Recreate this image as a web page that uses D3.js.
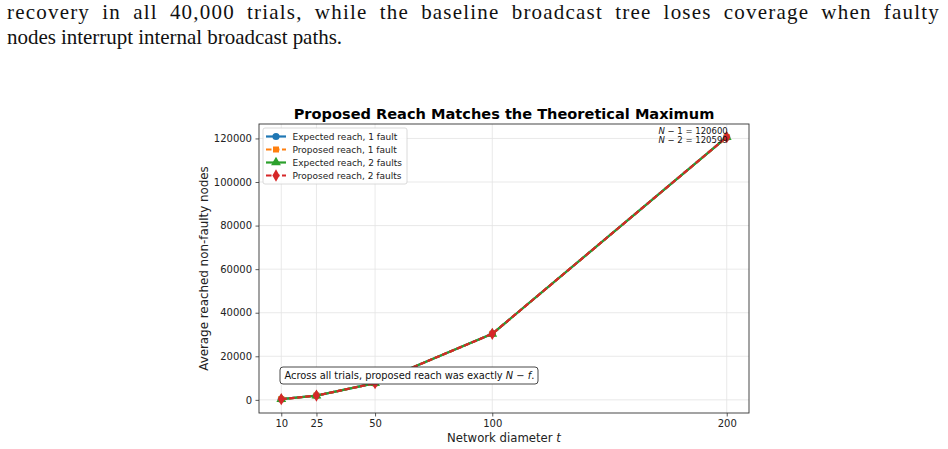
<!DOCTYPE html>
<html>
<head>
<meta charset="utf-8">
<script src="https://cdn.jsdelivr.net/npm/d3@7"></script>
<style>
  body { margin: 0; background: #fff; }
  svg { display: block; }
  .mpl { font-family: 'DejaVu Sans', sans-serif; }
</style>
</head>
<body>
<div id="chart"></div>
<script>
var width = 948, height = 449

// page text above the figure
var bodyLines = [
    "recovery in all 40,000 trials, while the baseline broadcast tree loses coverage when faulty",
    "nodes interrupt internal broadcast paths."
]

// data
var diameters = [10, 25, 50, 100, 200]
var xTicks = [10, 25, 50, 100, 200]
var yTicks = [0, 20000, 40000, 60000, 80000, 100000, 120000]
var expected1 = [330, 1950, 7650, 30300, 120600]
var proposed1 = [330, 1950, 7650, 30300, 120600]
var expected2 = [329, 1949, 7649, 30299, 120599]
var proposed2 = [329, 1949, 7649, 30299, 120599]
var seriesNames = ["Expected reach, 1 fault", "Proposed reach, 1 fault",
                   "Expected reach, 2 faults", "Proposed reach, 2 faults"]

var series = [
    {name: seriesNames[0], values: expected1, color: "#1f77b4", dash: null, symbol: d3.symbolCircle, size: 40},
    {name: seriesNames[1], values: proposed1, color: "#ff7f0e", dash: "5.5,2.5", symbol: d3.symbolSquare, size: 36},
    {name: seriesNames[2], values: expected2, color: "#2ca02c", dash: null, symbol: d3.symbolTriangle, size: 42},
    {name: seriesNames[3], values: proposed2, color: "#d62728", dash: "5.5,2.5", symbol: d3.symbolDiamond, size: 44}
]

// scale a text's font size so it spans a given width
function fit(sel, target) {
    var len = sel.node().getComputedTextLength()
    var fs = parseFloat(sel.style("font-size"))
    sel.style("font-size", (fs * target / len) + "px")
}

var svg = d3.select("#chart").append("svg")
    .attr("width", width)
    .attr("height", height)

var line2 = svg.append("text")
    .attr("x", 7).attr("y", 44)
    .style("font-family", "'Liberation Serif', serif")
    .style("font-size", "21px")
    .attr("fill", "#111")
    .text(bodyLines[1])
line2.style("letter-spacing", ((335 - line2.node().getComputedTextLength()) / bodyLines[1].length) + "px")

var line1 = svg.append("text")
    .attr("x", 7).attr("y", 19)
    .style("font-family", "'Liberation Serif', serif")
    .style("font-size", "21px")
    .style("letter-spacing", "1.2px")
    .attr("fill", "#111")
    .text(bodyLines[0])
var gaps = bodyLines[0].split(" ").length - 1
line1.style("word-spacing", ((933 - line1.node().getComputedTextLength()) / gaps) + "px")

var margin = {top: 124, left: 259, right: 199, bottom: 36}
var w = width - margin.left - margin.right,
    h = height - margin.top - margin.bottom

var x = d3.scaleLinear().domain([0.5, 209.5]).range([0, w])
var y = d3.scaleLinear().domain([-6030, 126630]).range([h, 0])

var g = svg.append("g")
    .attr("class", "mpl")
    .attr("transform", "translate(" + margin.left + "," + margin.top + ")")

// grid
g.append("g").selectAll("line").data(xTicks).enter().append("line")
    .attr("x1", d => x(d)).attr("x2", d => x(d))
    .attr("y1", 0).attr("y2", h)
    .attr("stroke", "#e3e3e3").attr("stroke-width", 0.8)
g.append("g").selectAll("line").data(yTicks).enter().append("line")
    .attr("y1", d => y(d)).attr("y2", d => y(d))
    .attr("x1", 0).attr("x2", w)
    .attr("stroke", "#e3e3e3").attr("stroke-width", 0.8)

var xAxis = d3.axisBottom(x).tickValues(xTicks).tickSize(3.5).tickPadding(3.5)
var yAxis = d3.axisLeft(y).tickValues(yTicks).tickFormat(d3.format("d")).tickSize(3.5).tickPadding(3.5)

g.append("g")
    .attr("transform", "translate(0," + h + ")")
    .call(xAxis)
    .call(a => a.select(".domain").remove())
g.append("g")
    .call(yAxis)
    .call(a => a.select(".domain").remove())
g.selectAll(".tick text").attr("fill", "#222")
    .style("font-family", "'DejaVu Sans'")
    .style("font-size", "10px")
g.selectAll(".tick line").attr("stroke", "#333").attr("stroke-width", 0.8)

g.append("rect")
    .attr("width", w).attr("height", h)
    .attr("fill", "none").attr("stroke", "#333").attr("stroke-width", 0.9)

// lines
var line = d3.line()
    .x((d, i) => x(diameters[i]))
    .y(d => y(d))

series.forEach(function(s) {
    g.append("path")
        .attr("d", line(s.values))
        .attr("fill", "none")
        .attr("stroke", s.color)
        .attr("stroke-width", 2.2)
        .attr("stroke-dasharray", s.dash)
    g.append("g").selectAll("path").data(s.values).enter().append("path")
        .attr("transform", (d, i) => "translate(" + x(diameters[i]) + "," + y(d) + ")")
        .attr("d", d3.symbol().type(s.symbol).size(s.size))
        .attr("fill", s.color)
})

// title and labels
var title = svg.append("text")
    .attr("class", "mpl")
    .attr("x", margin.left + w / 2).attr("y", 119)
    .attr("text-anchor", "middle")
    .style("font-weight", "bold")
    .style("font-size", "13px")
    .text("Proposed Reach Matches the Theoretical Maximum")
fit(title, 421)

var xlab = svg.append("text")
    .attr("class", "mpl")
    .attr("x", margin.left + w / 2).attr("y", 442)
    .attr("text-anchor", "middle")
    .style("font-size", "11px")
    .attr("fill", "#222")
xlab.append("tspan").text("Network diameter ")
xlab.append("tspan").style("font-style", "italic").text("t")
fit(xlab, 114)

var ylab = svg.append("text")
    .attr("class", "mpl")
    .attr("transform", "translate(208," + (margin.top + h / 2) + ") rotate(-90)")
    .attr("text-anchor", "middle")
    .style("font-size", "11px")
    .attr("fill", "#222")
    .text("Average reached non-faulty nodes")
fit(ylab, 205)

// legend
var legend = g.append("g").attr("transform", "translate(4,4)")
legend.append("rect")
    .attr("width", 144).attr("height", 56).attr("rx", 2)
    .attr("fill", "#fff").attr("fill-opacity", 0.85)
    .attr("stroke", "#d0d0d0").attr("stroke-width", 0.8)
series.forEach(function(s, i) {
    var ly = 8.5 + i * 13
    legend.append("line")
        .attr("x1", 3).attr("x2", 23).attr("y1", ly).attr("y2", ly)
        .attr("stroke", s.color).attr("stroke-width", 2.2)
        .attr("stroke-dasharray", s.dash)
    legend.append("path")
        .attr("transform", "translate(13," + ly + ")")
        .attr("d", d3.symbol().type(s.symbol).size(s.size))
        .attr("fill", s.color)
    var t = legend.append("text")
        .attr("x", 29.5).attr("y", ly + 3)
        .style("font-size", "8px")
        .attr("fill", "#222")
        .text(s.name)
    if (i === 0) fit(t, 105)
    legend.selectAll("text").style("font-size", legend.select("text").style("font-size"))
})

// top-right note
var note = g.append("text")
    .attr("text-anchor", "end")
    .style("font-size", "8.5px")
    .attr("fill", "#111")
var n1 = note.append("tspan").attr("x", x(200) + 1).attr("y", y(expected1[4]) - 3)
n1.append("tspan").style("font-style", "italic").text("N")
n1.append("tspan").text(" − 1 = " + expected1[4])
var n2 = note.append("tspan").attr("x", x(200) + 1).attr("y", y(expected1[4]) + 6)
n2.append("tspan").style("font-style", "italic").text("N")
n2.append("tspan").text(" − 2 = " + expected2[4])

// annotation box
var ann = g.append("g").attr("transform", "translate(21,243)")
ann.append("rect")
    .attr("width", 258).attr("height", 17).attr("rx", 3)
    .attr("fill", "#fff").attr("stroke", "#333").attr("stroke-width", 0.9)
var at = ann.append("text")
    .attr("x", 4.5).attr("y", 12.3)
    .style("font-size", "10px")
    .attr("fill", "#111")
at.append("tspan").text("Across all trials, proposed reach was exactly ")
at.append("tspan").style("font-style", "italic").text("N")
at.append("tspan").text(" − ")
at.append("tspan").style("font-style", "italic").text("f")
at.append("tspan").text(".")
fit(at, 250)
</script>
</body>
</html>
